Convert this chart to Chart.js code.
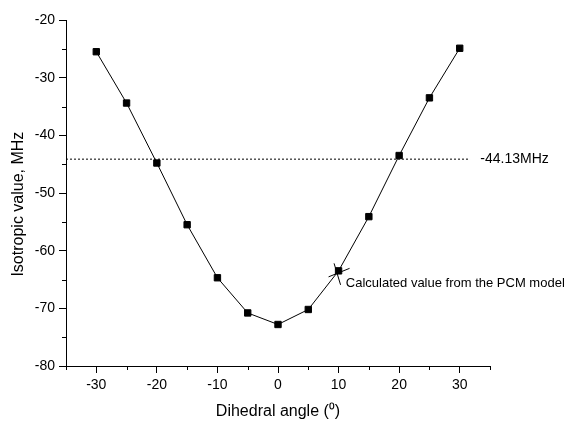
<!DOCTYPE html>
<html>
<head>
<meta charset="utf-8">
<script src="https://cdn.jsdelivr.net/npm/chart.js@4/dist/chart.umd.min.js"></script>
<style>
  body { margin: 0; background: #fff; }
  canvas { display: block; }
</style>
</head>
<body>
<canvas id="chart" width="572" height="421"></canvas>
<script>
// values
const angles = [-30, -25, -20, -15, -10, -5, 0, 5, 10, 15, 20, 25, 30];
const isotropic = [-25.5, -34.4, -44.8, -55.5, -64.7, -70.8, -72.8, -70.2, -63.5, -54.1, -43.5, -33.5, -24.9];

// dotted reference line
const refValue = -44.13;
const refFrom = -35;
const refTo = 31.7;
const refLabel = '-44.13MHz';
const refLabelAt = 33.4;

// annotated point
const pcmAngle = 10;
const pcmLabel = 'Calculated value from the PCM model';
const pcmLabelAt = [11.2, -65.6];

const xTicks = { min: -35, max: 35, step: 5, labelEvery: 10 };
const yTicks = { min: -80, max: -20, step: 5, labelEvery: 10 };

const FONT = "'Liberation Sans', Arial, sans-serif";

// short minor ticks + annotations
const extras = {
    id: 'extras',
    afterDraw(chart) {
        const { ctx } = chart;
        const xs = chart.scales.x, ys = chart.scales.y;
        ctx.save();
        ctx.strokeStyle = '#000';
        ctx.lineWidth = 1;
        ctx.beginPath();
        xs.ticks.forEach(t => {
            if (t.value % xTicks.labelEvery !== 0) {
                const px = Math.round(xs.getPixelForValue(t.value)) + 0.5;
                ctx.moveTo(px, ys.bottom);
                ctx.lineTo(px, ys.bottom + 4);
            }
        });
        ys.ticks.forEach(t => {
            if (t.value % yTicks.labelEvery !== 0) {
                const py = Math.round(ys.getPixelForValue(t.value)) + 0.5;
                ctx.moveTo(xs.left, py);
                ctx.lineTo(xs.left - 4, py);
            }
        });
        ctx.stroke();

        // crossed marker on the PCM point
        const i = angles.indexOf(pcmAngle);
        const cx = xs.getPixelForValue(pcmAngle), cy = ys.getPixelForValue(isotropic[i]);
        ctx.beginPath();
        ctx.moveTo(cx - 10, cy + 6);
        ctx.lineTo(cx + 11, cy - 2.5);
        ctx.moveTo(cx - 4.5, cy - 7.5);
        ctx.lineTo(cx + 2, cy + 14);
        ctx.stroke();

        ctx.fillStyle = '#000';
        ctx.textBaseline = 'middle';
        ctx.textAlign = 'left';
        ctx.font = '13px ' + FONT;
        ctx.fillText(pcmLabel, xs.getPixelForValue(pcmLabelAt[0]), ys.getPixelForValue(pcmLabelAt[1]));
        ctx.font = '14px ' + FONT;
        ctx.fillText(refLabel, xs.getPixelForValue(refLabelAt), ys.getPixelForValue(refValue));
        ctx.restore();
    }
};

new Chart(document.getElementById('chart'), {
    type: 'scatter',
    data: {
        datasets: [{
            data: angles.map((a, i) => ({ x: a, y: isotropic[i] })),
            showLine: true,
            borderColor: '#000',
            borderWidth: 1,
            backgroundColor: '#000',
            pointStyle: 'rect',
            pointRadius: 4.5,
            pointBorderWidth: 1,
            order: 1
        }, {
            data: [{ x: refFrom, y: refValue }, { x: refTo, y: refValue }],
            showLine: true,
            borderColor: '#000',
            borderWidth: 1,
            borderDash: [2, 2],
            pointRadius: 0,
            order: 2
        }]
    },
    options: {
        responsive: false,
        animation: false,
        layout: { padding: { left: 0, top: 20, right: 82, bottom: 0 } },
        plugins: { legend: { display: false }, tooltip: { enabled: false } },
        scales: {
            x: {
                min: xTicks.min, max: xTicks.max,
                afterFit: s => { s.height = 55; },
                ticks: {
                    stepSize: xTicks.step,
                    color: '#000',
                    padding: 4,
                    maxRotation: 0,
                    autoSkip: false,
                    font: { family: FONT, size: 14 },
                    callback: v => v % xTicks.labelEvery === 0 ? v : ''
                },
                grid: {
                    drawOnChartArea: false,
                    tickLength: 7,
                    tickColor: c => c.tick && c.tick.value % xTicks.labelEvery === 0 ? '#000' : 'rgba(0,0,0,0)'
                },
                border: { color: '#000', width: 1 },
                title: {
                    display: true,
                    text: 'Dihedral angle (\u2070)',
                    color: '#000',
                    font: { family: FONT, size: 16 },
                    padding: { top: 0, bottom: 0 }
                }
            },
            y: {
                min: yTicks.min, max: yTicks.max,
                afterFit: s => { s.width = 66; },
                ticks: {
                    stepSize: yTicks.step,
                    color: '#000',
                    padding: 4,
                    autoSkip: false,
                    font: { family: FONT, size: 14 },
                    callback: v => v % yTicks.labelEvery === 0 ? v : ''
                },
                grid: {
                    drawOnChartArea: false,
                    tickLength: 7,
                    tickColor: c => c.tick && c.tick.value % yTicks.labelEvery === 0 ? '#000' : 'rgba(0,0,0,0)'
                },
                border: { color: '#000', width: 1 },
                title: {
                    display: true,
                    text: 'Isotropic value, MHz     ',
                    color: '#000',
                    font: { family: FONT, size: 16 },
                    padding: { top: 9, bottom: 0 }
                }
            }
        }
    },
    plugins: [extras]
});
</script>
</body>
</html>
